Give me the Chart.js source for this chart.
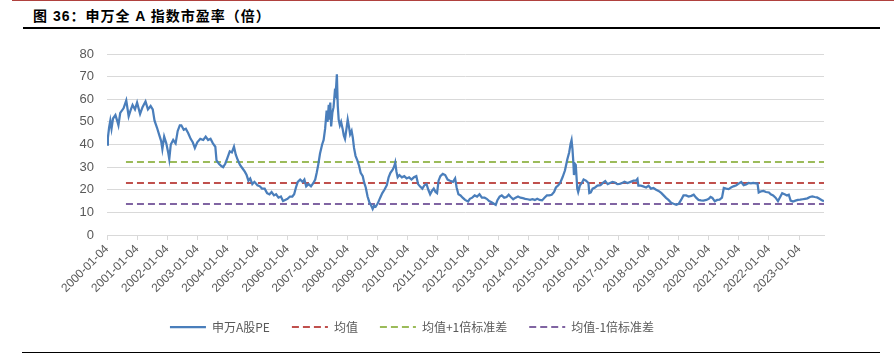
<!DOCTYPE html>
<html>
<head>
<meta charset="utf-8">
<script src="https://cdn.jsdelivr.net/npm/chart.js@4.4.1/dist/chart.umd.min.js"></script>
<style>
  html, body { margin: 0; padding: 0; background: #fff; }
  #wrap { position: relative; width: 894px; height: 357px; overflow: hidden; }
  #c { position: absolute; left: 0; top: 0; }
  #title { position: absolute; left: 33px; top: 5px; font: bold 14px "Liberation Sans", "Noto Sans CJK SC", sans-serif; letter-spacing: 1px; color: #000; white-space: nowrap; }
  .rule { position: absolute; }
</style>
</head>
<body>
<div id="wrap">
  <div class="rule" style="left:12px;top:0;width:882px;height:1px;background:#b0413e"></div>
  <div id="title">图 36：申万全 A 指数市盈率（倍）</div>
  <div class="rule" style="left:23px;top:27px;width:857px;height:2px;background:#000"></div>
  <canvas id="c" width="894" height="357"></canvas>
  <div class="rule" style="left:22px;top:352px;width:858px;height:1px;background:#000"></div>
</div>
<script>
// Time positions (decimal years) and Shenwan All-A PE values
const timeYears = [
  2000.00,2000.03,2000.07,2000.11,2000.15,2000.20,2000.28,2000.35,2000.38,2000.44,2000.55,2000.64,2000.72,2000.78,2000.85,2000.93,
  2001.00,2001.10,2001.18,2001.28,2001.36,2001.45,2001.52,2001.58,2001.66,2001.74,2001.80,2001.84,2001.90,2001.97,
  2002.04,2002.07,2002.12,2002.20,2002.28,2002.35,2002.42,2002.47,2002.55,2002.62,2002.70,2002.78,2002.85,2002.92,
  2003.00,2003.10,2003.20,2003.28,2003.36,2003.44,2003.52,2003.60,2003.64,2003.72,2003.80,2003.86,2003.93,
  2004.00,2004.08,2004.15,2004.22,2004.28,2004.35,2004.42,2004.50,2004.58,2004.64,2004.70,2004.76,2004.83,2004.90,
  2005.00,2005.08,2005.15,2005.24,2005.32,2005.40,2005.47,2005.55,2005.62,2005.70,2005.78,2005.85,2005.92,
  2006.00,2006.08,2006.16,2006.22,2006.28,2006.34,2006.42,2006.50,2006.56,2006.62,2006.70,2006.78,2006.86,2006.92,2006.97,
  2007.02,2007.08,2007.15,2007.20,2007.25,2007.30,2007.33,2007.37,2007.40,2007.42,2007.45,2007.49,2007.53,2007.57,2007.60,2007.64,2007.67,2007.70,2007.74,2007.78,2007.83,2007.87,2007.91,2007.96,
  2008.00,2008.04,2008.08,2008.13,2008.17,2008.21,2008.26,2008.32,2008.38,2008.43,2008.50,2008.55,2008.60,2008.66,2008.72,2008.78,2008.83,2008.88,2008.93,
  2009.00,2009.08,2009.15,2009.22,2009.30,2009.36,2009.42,2009.50,2009.55,2009.58,2009.62,2009.66,2009.72,2009.80,2009.88,2009.96,
  2010.04,2010.12,2010.20,2010.28,2010.34,2010.40,2010.48,2010.55,2010.62,2010.68,2010.74,2010.80,2010.86,2010.92,2010.97,
  2011.02,2011.08,2011.16,2011.24,2011.32,2011.40,2011.50,2011.57,2011.62,2011.68,2011.75,2011.82,2011.90,
  2012.00,2012.06,2012.14,2012.22,2012.30,2012.38,2012.46,2012.55,2012.62,2012.70,2012.78,2012.86,2012.92,2012.98,
  2013.05,2013.12,2013.20,2013.28,2013.35,2013.42,2013.50,2013.58,2013.66,2013.74,2013.82,2013.90,2013.98,
  2014.06,2014.14,2014.22,2014.30,2014.38,2014.46,2014.54,2014.62,2014.70,2014.78,2014.86,2014.92,
  2015.00,2015.06,2015.14,2015.22,2015.30,2015.36,2015.41,2015.44,2015.47,2015.50,2015.52,2015.55,2015.58,2015.63,2015.66,2015.72,2015.78,2015.84,2015.92,
  2016.00,2016.03,2016.08,2016.14,2016.22,2016.30,2016.40,2016.48,2016.56,2016.64,2016.72,2016.80,2016.88,2016.96,
  2017.04,2017.12,2017.20,2017.30,2017.40,2017.50,2017.58,2017.63,2017.66,2017.74,2017.82,2017.92,
  2018.00,2018.08,2018.16,2018.25,2018.33,2018.42,2018.50,2018.58,2018.66,2018.75,2018.83,2018.92,
  2019.00,2019.08,2019.16,2019.25,2019.33,2019.42,2019.50,2019.58,2019.66,2019.74,2019.82,2019.92,
  2020.00,2020.06,2020.12,2020.20,2020.28,2020.36,2020.44,2020.50,2020.58,2020.66,2020.74,2020.82,2020.92,
  2021.00,2021.08,2021.16,2021.24,2021.32,2021.40,2021.48,2021.56,2021.62,2021.66,2021.74,2021.82,2021.90,
  2022.00,2022.06,2022.14,2022.22,2022.30,2022.36,2022.44,2022.52,2022.60,2022.66,2022.72,2022.80,2022.88,2022.96,
  2023.04,2023.12,2023.20,2023.28,2023.36,2023.44,2023.52,2023.60,2023.68,2023.76,2023.83
];
const peValues = [
  40.0,43.0,47.5,50.5,47.0,51.5,53.0,50.0,48.5,54.0,56.0,59.5,52.5,55.0,57.5,55.5,
  58.5,53.5,56.5,59.0,55.5,57.0,55.5,50.5,47.5,44.0,41.5,38.0,43.5,40.5,
  36.0,33.5,40.0,42.0,40.5,46.0,48.5,48.5,46.5,47.0,45.0,42.5,41.0,38.5,
  41.0,42.5,42.0,43.5,42.0,42.5,40.5,39.0,33.0,31.5,30.5,30.0,31.5,
  34.0,37.0,36.5,39.0,35.5,33.0,31.0,29.5,28.0,26.5,24.0,25.0,22.5,23.5,
  22.0,21.5,20.5,20.5,18.5,18.0,19.0,17.5,18.0,16.5,17.0,15.0,15.5,
  16.0,17.0,17.0,18.0,21.0,23.5,24.5,23.5,24.5,21.5,22.5,21.5,23.0,24.5,27.5,
  31.0,36.0,40.0,42.0,47.0,55.0,50.0,57.5,51.0,58.5,48.0,54.0,56.5,63.0,62.0,71.0,57.0,51.0,48.5,50.0,47.0,44.0,42.5,47.0,
  51.0,48.0,44.5,46.0,43.0,38.5,35.0,33.0,30.5,27.5,26.0,23.0,21.0,17.0,14.5,13.0,11.5,13.0,12.5,
  14.0,16.5,18.5,20.0,22.0,25.5,27.5,29.0,30.5,32.0,28.0,25.5,26.5,25.5,26.0,25.0,
  25.5,24.5,25.5,26.0,22.5,21.5,20.5,22.0,22.5,20.0,18.0,19.5,20.5,19.0,18.5,
  24.0,26.0,27.0,26.5,24.5,24.0,23.5,25.0,21.0,18.0,17.5,16.5,15.5,
  14.8,16.0,16.5,17.5,17.0,18.0,16.5,16.5,16.0,15.0,14.5,13.8,13.3,15.5,
  17.0,17.5,16.5,16.8,17.8,16.8,15.8,16.5,17.0,16.5,16.3,16.0,15.8,
  15.5,15.8,15.5,16.0,15.5,15.3,16.5,17.5,17.5,17.8,19.0,21.0,
  22.0,23.0,25.5,28.5,33.5,36.5,40.5,42.0,38.0,32.0,26.5,31.5,31.0,20.5,19.0,22.0,23.0,24.5,24.0,
  23.0,18.5,18.8,20.5,21.0,21.8,22.0,23.0,23.8,22.5,23.0,23.5,23.2,22.5,
  22.6,23.0,23.5,23.0,23.5,24.0,24.0,24.8,21.8,21.8,21.5,21.0,
  21.8,20.5,20.8,20.0,19.5,18.6,17.5,16.4,15.5,14.2,13.8,13.4,
  13.8,15.5,17.5,17.5,17.0,17.3,17.8,16.5,15.5,15.3,15.2,15.5,
  16.0,16.8,16.4,14.9,15.5,15.6,16.5,20.8,20.5,20.3,21.0,21.5,22.0,
  22.8,23.4,22.0,22.3,23.0,22.8,23.0,22.8,22.8,18.8,19.3,19.5,19.0,
  18.8,18.0,17.5,16.5,15.0,16.5,18.5,18.0,17.5,17.8,15.2,14.8,15.2,15.5,
  15.6,15.8,16.0,16.2,16.8,17.1,16.8,16.6,16.0,15.4,14.9
];
// Reference lines
const meanStart = 2000.63, seriesEnd = 2023.83;
const meanValue = 23.0;
const meanPlusStd = 32.3;
const meanMinusStd = 13.7;
const seriesNames = ['申万A股PE', '均值', '均值+1倍标准差', '均值-1倍标准差'];
const yTicks = [0, 10, 20, 30, 40, 50, 60, 70, 80];

const pePoints = timeYears.map((t, i) => ({ x: t, y: peValues[i] }));
const flat = v => [{ x: meanStart, y: v }, { x: seriesEnd, y: v }];

const tickFont = { family: '"Liberation Sans", Arial, sans-serif' };

new Chart(document.getElementById('c'), {
  type: 'line',
  data: {
    datasets: [
      { label: seriesNames[0], data: pePoints, borderColor: '#4A7EBB', backgroundColor: '#4A7EBB', borderWidth: 2.25, pointRadius: 0, tension: 0 },
      { label: seriesNames[1], data: flat(meanValue), borderColor: '#C0504D', backgroundColor: '#C0504D', borderWidth: 2, borderDash: [7, 4], pointRadius: 0 },
      { label: seriesNames[2], data: flat(meanPlusStd), borderColor: '#9BBB59', backgroundColor: '#9BBB59', borderWidth: 2, borderDash: [7, 4], pointRadius: 0 },
      { label: seriesNames[3], data: flat(meanMinusStd), borderColor: '#8064A2', backgroundColor: '#8064A2', borderWidth: 2, borderDash: [7, 4], pointRadius: 0 }
    ]
  },
  options: {
    responsive: false,
    animation: false,
    devicePixelRatio: 1,
    layout: { padding: { top: 54, left: 0, right: 70, bottom: 14 } },
    plugins: {
      tooltip: { enabled: false },
      legend: {
        position: 'bottom',
        labels: {
          usePointStyle: true,
          pointStyle: 'line',
          pointStyleWidth: 36,
          padding: 22,
          color: '#595959',
          font: { family: '"Noto Sans CJK SC", sans-serif', size: 12 },
          generateLabels: (chart) => chart.data.datasets.map((ds, i) => ({
            text: ds.label,
            fillStyle: ds.borderColor,
            strokeStyle: ds.borderColor,
            lineWidth: ds.borderWidth,
            lineDash: ds.borderDash || [],
            pointStyle: 'line',
            fontColor: '#595959',
            hidden: false,
            datasetIndex: i
          }))
        }
      }
    },
    scales: {
      x: {
        type: 'linear',
        min: 2000,
        max: seriesEnd,
        afterFit: (s) => { s.height = 64; },
        border: { display: true, color: '#D9D9D9', width: 1 },
        grid: { display: true, drawOnChartArea: false, drawTicks: true, tickLength: 5, color: '#D9D9D9' },
        ticks: {
          stepSize: 1,
          includeBounds: false,
          maxTicksLimit: 40,
          autoSkip: false,
          minRotation: 45,
          maxRotation: 45,
          padding: 2,
          color: '#595959',
          font: { ...tickFont, size: 12 },
          callback: (v) => Number.isInteger(v) ? v + '-01-04' : ''
        }
      },
      y: {
        min: 0,
        max: 80,
        afterFit: (s) => { s.width = 107; },
        border: { display: false },
        grid: { color: '#D9D9D9', lineWidth: 1, drawTicks: false },
        afterBuildTicks: (s) => { s.ticks = yTicks.map(v => ({ value: v })); },
        ticks: { padding: 13, color: '#595959', font: { ...tickFont, size: 13 } }
      }
    }
  }
});
</script>
</body>
</html>
